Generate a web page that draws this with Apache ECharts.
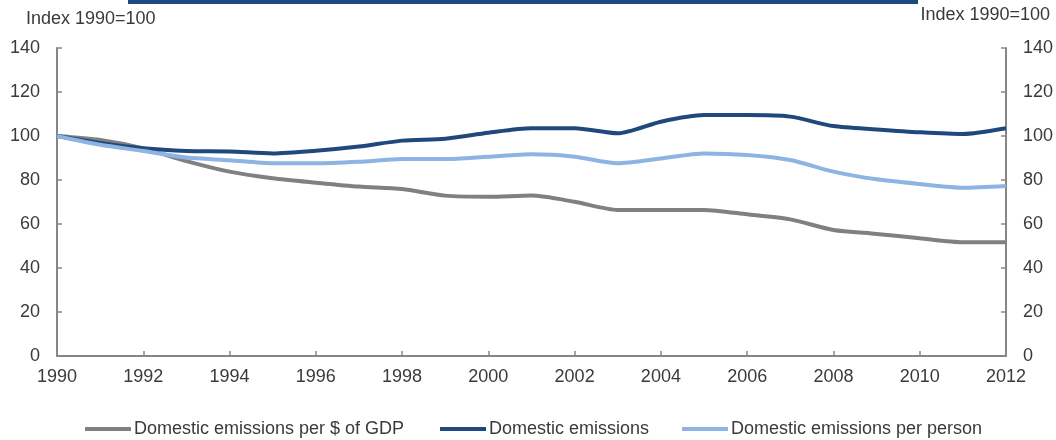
<!DOCTYPE html>
<html>
<head>
<meta charset="utf-8">
<script src="https://cdn.jsdelivr.net/npm/echarts@6/dist/echarts.min.js"></script>
<style>html,body{margin:0;padding:0;background:#fff}#c{width:1056px;height:440px}</style>
</head>
<body>
<div id="c"></div>
<script>
const years = ['1990','1991','1992','1993','1994','1995','1996','1997','1998','1999','2000','2001','2002','2003','2004','2005','2006','2007','2008','2009','2010','2011','2012'];
const perGdp = [100, 98.2, 94.4, 88.6, 83.8, 80.8, 78.8, 77.0, 75.9, 72.9, 72.4, 72.9, 70.1, 66.4, 66.4, 66.4, 64.4, 62.1, 57.3, 55.5, 53.5, 51.7, 51.7];
const domestic = [100, 96.8, 94.4, 93.2, 93.0, 92.1, 93.3, 95.2, 97.9, 98.8, 101.5, 103.5, 103.5, 101.2, 106.5, 109.5, 109.5, 108.8, 104.5, 103.0, 101.7, 100.9, 103.5];
const perPerson = [100, 96.0, 93.2, 90.2, 89.0, 87.6, 87.6, 88.3, 89.5, 89.5, 90.6, 91.7, 90.6, 87.6, 89.8, 92.1, 91.4, 89.1, 83.8, 80.3, 78.2, 76.5, 77.3];
const seriesNames = ['Domestic emissions per $ of GDP', 'Domestic emissions', 'Domestic emissions per person'];
const yTitle = 'Index 1990=100';

const font = '"Liberation Sans", Arial, sans-serif';
const txt = '#3a3a3a';
const axisCol = '#868686';
const colors = ['#808080', '#1f497d', '#8db4e2'];

const chart = echarts.init(document.getElementById('c'));
const yAxisCommon = {
  type: 'value', min: 0, max: 140, interval: 20,
  splitLine: {show: false},
  axisLine: {show: true, lineStyle: {color: axisCol, width: 2}},
  axisTick: {show: true, inside: true, length: 5, lineStyle: {color: axisCol, width: 1.5}},
  axisLabel: {color: txt, fontSize: 18, fontFamily: font, margin: 17}
};
const legendLefts = [80, 435, 677];
chart.setOption({
  animation: false,
  color: colors,
  graphic: [
    {type: 'rect', shape: {x: 128, y: 0, width: 790, height: 4}, style: {fill: '#1f497d'}},
    {type: 'text', left: 26, top: 10, style: {text: yTitle, fill: txt, font: '18px ' + font}},
    {type: 'text', right: 6, top: 6, style: {text: yTitle, fill: txt, font: '18px ' + font}}
  ],
  grid: {left: 57, right: 49, top: 48, bottom: 84, containLabel: false},
  legend: seriesNames.map((n, i) => ({
    left: legendLefts[i], top: 415, itemWidth: 46, itemHeight: 4, icon: 'rect',
    textStyle: {color: txt, fontSize: 18, fontFamily: font, padding: [0, 0, 0, -2]},
    data: [n]
  })),
  xAxis: {
    type: 'category', data: years, boundaryGap: false,
    axisLine: {lineStyle: {color: axisCol, width: 2}},
    axisTick: {inside: true, length: 5, interval: 1, lineStyle: {color: axisCol, width: 1.5}},
    axisLabel: {interval: 1, color: txt, fontSize: 18, fontFamily: font, margin: 12}
  },
  yAxis: [
    Object.assign({}, yAxisCommon, {position: 'left'}),
    Object.assign({}, yAxisCommon, {position: 'right'})
  ],
  series: [
    {name: seriesNames[0], type: 'line', data: perGdp, smooth: 0.25, symbol: 'none', lineStyle: {width: 4, color: colors[0]}},
    {name: seriesNames[1], type: 'line', data: domestic, smooth: 0.25, symbol: 'none', lineStyle: {width: 4, color: colors[1]}},
    {name: seriesNames[2], type: 'line', data: perPerson, smooth: 0.25, symbol: 'none', lineStyle: {width: 4, color: colors[2]}}
  ]
});
</script>
</body>
</html>
